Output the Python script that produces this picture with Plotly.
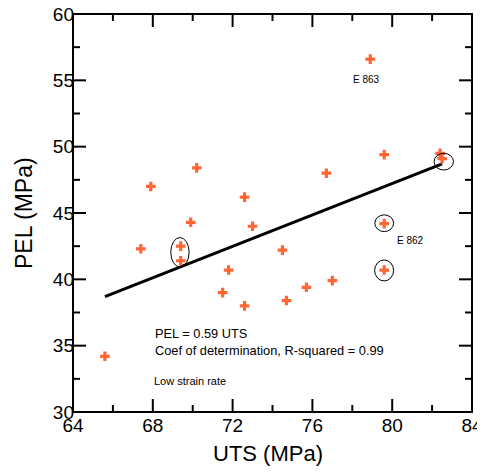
import plotly.graph_objects as go

# Data
uts = [78.9, 79.6, 82.4, 82.5, 67.9, 70.2, 76.7, 72.6, 69.9, 73.0, 79.6, 67.4,
       69.4, 69.4, 74.5, 71.8, 79.6, 71.5, 72.6, 74.7, 75.7, 77.0, 65.6]
pel = [56.6, 49.4, 49.5, 49.1, 47.0, 48.4, 48.0, 46.2, 44.3, 44.0, 44.2, 42.3,
       42.5, 41.4, 42.2, 40.7, 40.7, 39.0, 38.0, 38.4, 39.4, 39.9, 34.2]

fit_x = [65.6, 82.5]
fit_y = [38.7, 48.7]

x_ticks = [64, 68, 72, 76, 80, 84]
y_ticks = [30, 35, 40, 45, 50, 55, 60]
x_minor = [66, 70, 74, 78, 82]
y_minor = [32.5, 37.5, 42.5, 47.5, 52.5, 57.5]

FONT = "Liberation Sans, Arial, sans-serif"
X0, X1 = x_ticks[0], x_ticks[-1]
Y0, Y1 = y_ticks[0], y_ticks[-1]

fig = go.Figure()
fig.add_trace(go.Scatter(x=fit_x, y=fit_y, mode="lines",
                         line=dict(color="black", width=3), showlegend=False))
fig.add_trace(go.Scatter(x=uts, y=pel, mode="markers",
                         marker=dict(symbol="cross", size=8, color="#FF6633"),
                         showlegend=False))

# ellipses around highlighted points
ell = [
    (68.9, 69.82, 40.93, 43.15),
    (82.1, 83.07, 48.24, 49.50),
    (79.13, 80.07, 43.6, 44.86),
    (79.12, 80.07, 39.88, 41.46),
]
for x0, x1, y0, y1 in ell:
    fig.add_shape(type="circle", xref="x", yref="y", x0=x0, x1=x1, y0=y0, y1=y1,
                  line=dict(color="black", width=1))

# frame and inside tick marks on all four sides
BLK = dict(color="black", width=2)
fig.add_shape(type="rect", xref="paper", yref="paper", x0=0, x1=1, y0=0, y1=1,
              line=BLK, layer="above")
# tick lengths expressed in axis units (13 px major, 7 px minor)
XL = {13: 0.652, 7: 0.351}
YL = {13: 0.98, 7: 0.528}
for vals, n in ((x_ticks, 13), (x_minor, 7)):
    for v in vals:
        fig.add_shape(type="line", xref="x", yref="y", x0=v, x1=v,
                      y0=Y0, y1=Y0 + YL[n], line=BLK, layer="above")
        fig.add_shape(type="line", xref="x", yref="y", x0=v, x1=v,
                      y0=Y1, y1=Y1 - YL[n], line=BLK, layer="above")
for vals, n in ((y_ticks, 13), (y_minor, 7)):
    for v in vals:
        fig.add_shape(type="line", xref="x", yref="y", y0=v, y1=v,
                      x0=X0, x1=X0 + XL[n], line=BLK, layer="above")
        fig.add_shape(type="line", xref="x", yref="y", y0=v, y1=v,
                      x0=X1, x1=X1 - XL[n], line=BLK, layer="above")

fig.add_annotation(x=78.72, y=55.08, text="E 863", showarrow=False,
                   font=dict(family=FONT, size=10, color="black"))
fig.add_annotation(x=80.92, y=42.89, text="E 862", showarrow=False,
                   font=dict(family=FONT, size=10, color="black"))
fig.add_annotation(x=68.0, y=35.28, xanchor="left", yanchor="middle",
                   text="PEL = 0.59 UTS<br>Coef of determination, R-squared = 0.99",
                   align="left", showarrow=False,
                   font=dict(family=FONT, size=12.8, color="black"))
fig.add_annotation(x=67.95, y=32.32, xanchor="left", text="Low strain rate",
                   showarrow=False, font=dict(family=FONT, size=11, color="black"))

# axis titles
fig.add_annotation(xref="paper", yref="paper", x=0.4887, y=-0.105,
                   xanchor="center", yanchor="middle", text="UTS (MPa)",
                   showarrow=False, font=dict(family=FONT, size=22, color="black"))
fig.add_annotation(xref="paper", yref="paper", x=-0.1228, y=0.5,
                   xanchor="center", yanchor="middle", text="PEL (MPa)",
                   textangle=-90, showarrow=False,
                   font=dict(family=FONT, size=23, color="black"))

fig.update_layout(
    template="none",
    xaxis=dict(range=[X0, X1], tickmode="linear", tick0=X0,
               dtick=x_ticks[1] - x_ticks[0],
               showline=False, ticks="", showgrid=False, zeroline=False,
               ticklabeloverflow="allow",
               tickfont=dict(family=FONT, size=19, color="black")),
    yaxis=dict(range=[Y0, Y1], tickmode="linear", tick0=Y0,
               dtick=y_ticks[1] - y_ticks[0],
               showline=False, ticks="", showgrid=False, zeroline=False,
               ticklabeloverflow="allow", ticklabelstandoff=-2,
               tickfont=dict(family=FONT, size=19, color="black")),
    showlegend=False,
    width=477, height=466, plot_bgcolor="white", paper_bgcolor="white",
    margin=dict(l=65, r=13, t=6, b=62, autoexpand=False),
    font=dict(family=FONT, color="black"),
)

fig.write_html("out.html")
